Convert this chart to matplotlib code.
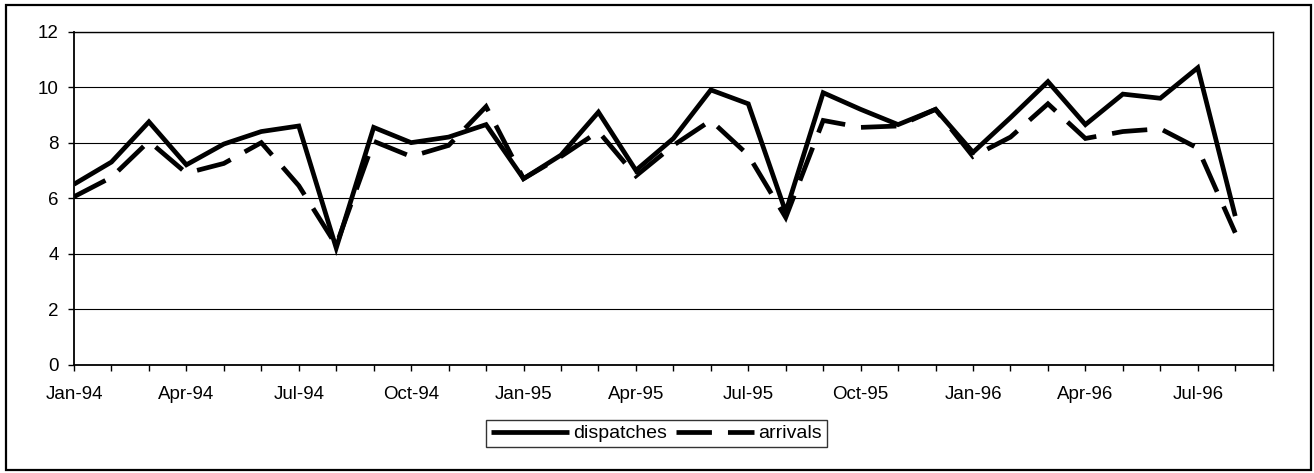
import matplotlib
matplotlib.use("Agg")
import matplotlib.pyplot as plt
from matplotlib.patches import Rectangle

# ---- data -------------------------------------------------------------
months = ["Jan-94", "Feb-94", "Mar-94", "Apr-94", "May-94", "Jun-94", "Jul-94", "Aug-94",
          "Sep-94", "Oct-94", "Nov-94", "Dec-94", "Jan-95", "Feb-95", "Mar-95", "Apr-95",
          "May-95", "Jun-95", "Jul-95", "Aug-95", "Sep-95", "Oct-95", "Nov-95", "Dec-95",
          "Jan-96", "Feb-96", "Mar-96", "Apr-96", "May-96", "Jun-96", "Jul-96", "Aug-96"]
dispatches = [6.5, 7.3, 8.75, 7.2, 7.95, 8.4, 8.6, 4.2, 8.55, 8.0, 8.2, 8.65,
              6.7, 7.55, 9.1, 7.0, 8.15, 9.9, 9.4, 5.5, 9.8, 9.2, 8.65, 9.2,
              7.65, 8.9, 10.2, 8.65, 9.75, 9.6, 10.7, 5.35]
arrivals = [6.05, 6.75, 8.05, 6.9, 7.25, 8.0, 6.45, 4.3, 8.05, 7.5, 7.9, 9.3,
            6.7, 7.5, 8.4, 6.8, 7.9, 8.8, 7.55, 5.3, 8.8, 8.55, 8.6, 9.2,
            7.5, 8.2, 9.4, 8.15, 8.4, 8.5, 7.8, 4.75]
tick_labels = ["Jan-94", "Apr-94", "Jul-94", "Oct-94", "Jan-95", "Apr-95",
               "Jul-95", "Oct-95", "Jan-96", "Apr-96", "Jul-96"]
y_ticks = [0, 2, 4, 6, 8, 10, 12]

# ---- style ------------------------------------------------------------
plt.rcParams['font.family'] = ['Liberation Sans', 'DejaVu Sans']
FS = 13.5

W, H = 1314, 473
fig = plt.figure(figsize=(W / 100, H / 100), dpi=100)
ax = fig.add_axes([74 / W, 1 - 364.5 / H, (1272.7 - 74) / W, (364.5 - 31.7) / H])

x = list(range(len(months)))
lw = 3.4
ax.plot(x, dispatches, color='black', lw=lw, solid_joinstyle='miter',
        solid_capstyle='butt', label='dispatches', zorder=3)
ax.plot(x, arrivals, color='black', lw=lw, linestyle=(0, (7.5, 3.4)),
        dash_joinstyle='miter', dash_capstyle='butt', label='arrivals', zorder=3)

ax.set_xlim(0, len(months))
ax.set_ylim(0, 12)
ax.set_yticks(y_ticks)
ax.set_yticklabels([str(v) for v in y_ticks], fontsize=FS)

# monthly ticks, labels every 3rd month
all_ticks = list(range(len(months) + 1))
ax.set_xticks(all_ticks)
lab = []
for i in all_ticks:
    if i < len(months) and months[i] in tick_labels:
        lab.append(months[i])
    else:
        lab.append("")
ax.set_xticklabels(lab, fontsize=FS)

ax.tick_params(axis='x', direction='out', length=4.5, width=1, pad=11, color='black')
ax.tick_params(axis='y', direction='out', length=4, width=1, pad=7, color='black')

ax.yaxis.grid(True, color='black', lw=0.8)
ax.set_axisbelow(True)
for side in ['left', 'bottom']:
    ax.spines[side].set_linewidth(1.3)
for side in ['top', 'right']:
    ax.spines[side].set_linewidth(1.0)

# legend
leg = fig.legend(loc='center', bbox_to_anchor=(656.5 / W, 1 - 433.5 / H), ncol=2,
                 fontsize=FS + 0.5, frameon=True, fancybox=False, shadow=False,
                 handlelength=4.0, handletextpad=0.2, columnspacing=0.5,
                 borderpad=0.25, borderaxespad=0)
leg.get_frame().set_edgecolor('black')
leg.get_frame().set_linewidth(1.0)

# outer chart border
fig.patches.append(Rectangle((6 / W, 1 - 470 / H), (1311 - 6) / W, (470 - 5) / H,
                             transform=fig.transFigure, fill=False,
                             edgecolor='black', lw=1.6))

fig.savefig('out.png', dpi=100)
